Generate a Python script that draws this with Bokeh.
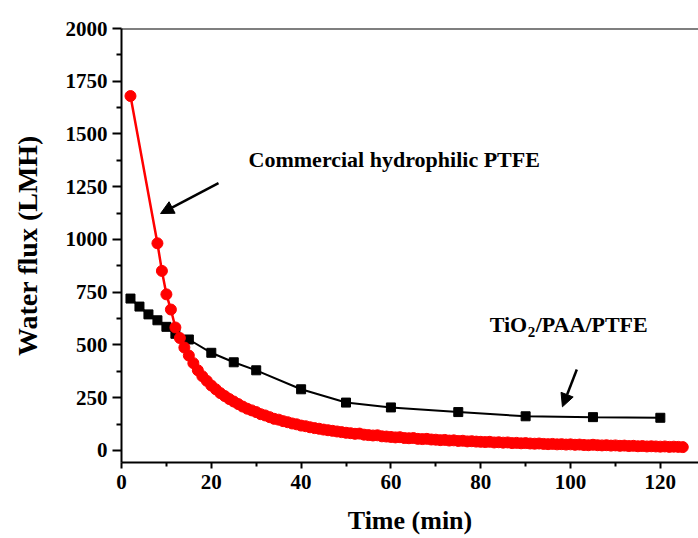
from bokeh.plotting import figure
from bokeh.models import Range1d, FixedTicker, Span, Label, Arrow, NormalHead
from bokeh.embed import file_html
from bokeh.resources import INLINE

# ---- data ----
tio2_time = [2, 4, 6, 8, 10, 12, 15, 20, 25, 30, 40, 50, 60, 75, 90, 105, 120]
tio2_flux = [720, 682, 645, 617, 586, 553, 526, 463, 418, 380, 290, 227, 204, 182, 162, 158, 155]

ptfe_time = [2, 8, 9, 10, 11, 12, 13, 14, 15, 16, 17, 18, 19, 20, 21, 22, 23, 24, 25,
             26, 27, 28, 29, 30, 31, 32, 33, 34, 35, 36, 37, 38, 39, 40, 41, 42, 43,
             44, 45, 46, 47, 48, 49, 50, 51, 52, 53, 54, 55, 56, 57, 58, 59, 60, 61,
             62, 63, 64, 65, 66, 67, 68, 69, 70, 71, 72, 73, 74, 75, 76, 77, 78, 79,
             80, 81, 82, 83, 84, 85, 86, 87, 88, 89, 90, 91, 92, 93, 94, 95, 96, 97,
             98, 99, 100, 101, 102, 103, 104, 105, 106, 107, 108, 109, 110, 111, 112,
             113, 114, 115, 116, 117, 118, 119, 120, 121, 122, 123, 124, 125]
ptfe_flux = [1680, 982, 851, 740, 668, 583, 533, 488, 450, 414, 380, 352, 330, 308, 290,
             272, 258, 244, 232, 220, 208, 198, 190, 182, 172, 166, 158, 150, 146, 139,
             134, 128, 124, 118, 115, 110, 106, 103, 99, 96, 93, 90, 87, 84, 82, 79, 80,
             75, 73, 71, 72, 67, 66, 64, 62, 63, 59, 58, 59, 55, 54, 55, 52, 51, 49, 50,
             47, 48, 45, 46, 43, 44, 42, 41, 40, 41, 38, 39, 37, 38, 35, 36, 34, 35, 33,
             32, 33, 31, 30, 31, 29, 30, 28, 29, 27, 28, 26, 25, 27, 25, 24, 25, 23, 24,
             22, 23, 21, 22, 20, 21, 19, 20, 19, 18, 19, 17, 18, 17, 16]

x_major = [0, 20, 40, 60, 80, 100, 120]
x_minor = [10, 30, 50, 70, 90, 110, 130]
y_major = [0, 250, 500, 750, 1000, 1250, 1500, 1750, 2000]
y_minor = [125, 375, 625, 875, 1125, 1375, 1625, 1875]

FONT = "Liberation Serif"

p = figure(width=698, height=538, x_range=Range1d(0, 128.5), y_range=Range1d(-57, 2000),
           output_backend="svg", toolbar_location=None,
           min_border_left=121, min_border_right=0, min_border_top=28, min_border_bottom=76)
p.grid.visible = False
p.outline_line_color = None
p.background_fill_color = "white"
p.border_fill_color = "white"

# axes
p.xaxis.ticker = FixedTicker(ticks=x_major, minor_ticks=x_minor)
p.yaxis.ticker = FixedTicker(ticks=y_major, minor_ticks=y_minor)
for ax in (p.xaxis, p.yaxis):
    ax.axis_line_width = 2
    ax.axis_line_color = "black"
    ax.major_tick_line_width = 2
    ax.minor_tick_line_width = 2
    ax.major_tick_line_color = "black"
    ax.minor_tick_line_color = "black"
    ax.major_tick_in = 0
    ax.minor_tick_in = 0
    ax.major_label_text_font = FONT
    ax.major_label_text_font_style = "bold"
    ax.major_label_text_font_size = "21px"
    ax.major_label_text_color = "black"
    ax.axis_label_text_font = FONT
    ax.axis_label_text_font_style = "bold"
    ax.axis_label_text_color = "black"
p.xaxis.axis_label_text_font_size = "26px"
p.yaxis.axis_label_text_font_size = "28px"
p.xaxis.major_tick_out = 6
p.xaxis.minor_tick_out = 4
p.yaxis.major_tick_out = 9
p.yaxis.minor_tick_out = 5
p.xaxis.major_label_standoff = 6
p.yaxis.major_label_standoff = 5
p.xaxis.axis_label = "Time (min)"
p.yaxis.axis_label = "Water flux (LMH)"
p.xaxis.axis_label_standoff = 14
p.yaxis.axis_label_standoff = 20

top = Span(location=2000, dimension="width", line_color="black", line_width=2)
p.add_layout(top)

# series
p.line(tio2_time, tio2_flux, line_color="black", line_width=2)
p.scatter(tio2_time, tio2_flux, marker="square", size=9, fill_color="black", line_color="black")
p.line(ptfe_time, ptfe_flux, line_color="red", line_width=2.5)
p.scatter(ptfe_time, ptfe_flux, marker="circle", size=11, fill_color="red", line_color="red")

# annotations
p.add_layout(Label(x=28.3, y=1380, text="Commercial hydrophilic PTFE", text_font=FONT,
                   text_font_style="bold", text_font_size="22px", text_color="black",
                   text_baseline="alphabetic"))
p.add_layout(Label(x=82, y=599, text="TiO", text_font=FONT, text_font_style="bold",
                   text_font_size="22px", text_color="black", text_baseline="alphabetic"))
p.add_layout(Label(x=82, y=599, x_offset=38, y_offset=-7.5, text="2", text_font=FONT,
                   text_font_style="bold", text_font_size="15px", text_color="black",
                   text_baseline="alphabetic"))
p.add_layout(Label(x=82, y=599, x_offset=46, text="/PAA/PTFE", text_font=FONT,
                   text_font_style="bold", text_font_size="22px", text_color="black",
                   text_baseline="alphabetic"))

p.add_layout(Arrow(x_start=21.6, y_start=1267, x_end=8.7, y_end=1123, line_width=2.5,
                   line_color="black",
                   end=NormalHead(size=13, fill_color="black", line_color="black", line_width=1)))
p.add_layout(Arrow(x_start=101.4, y_start=384, x_end=98.2, y_end=207, line_width=2.5,
                   line_color="black",
                   end=NormalHead(size=13, fill_color="black", line_color="black", line_width=1)))

open("out.html", "w").write(file_html(p, INLINE))
